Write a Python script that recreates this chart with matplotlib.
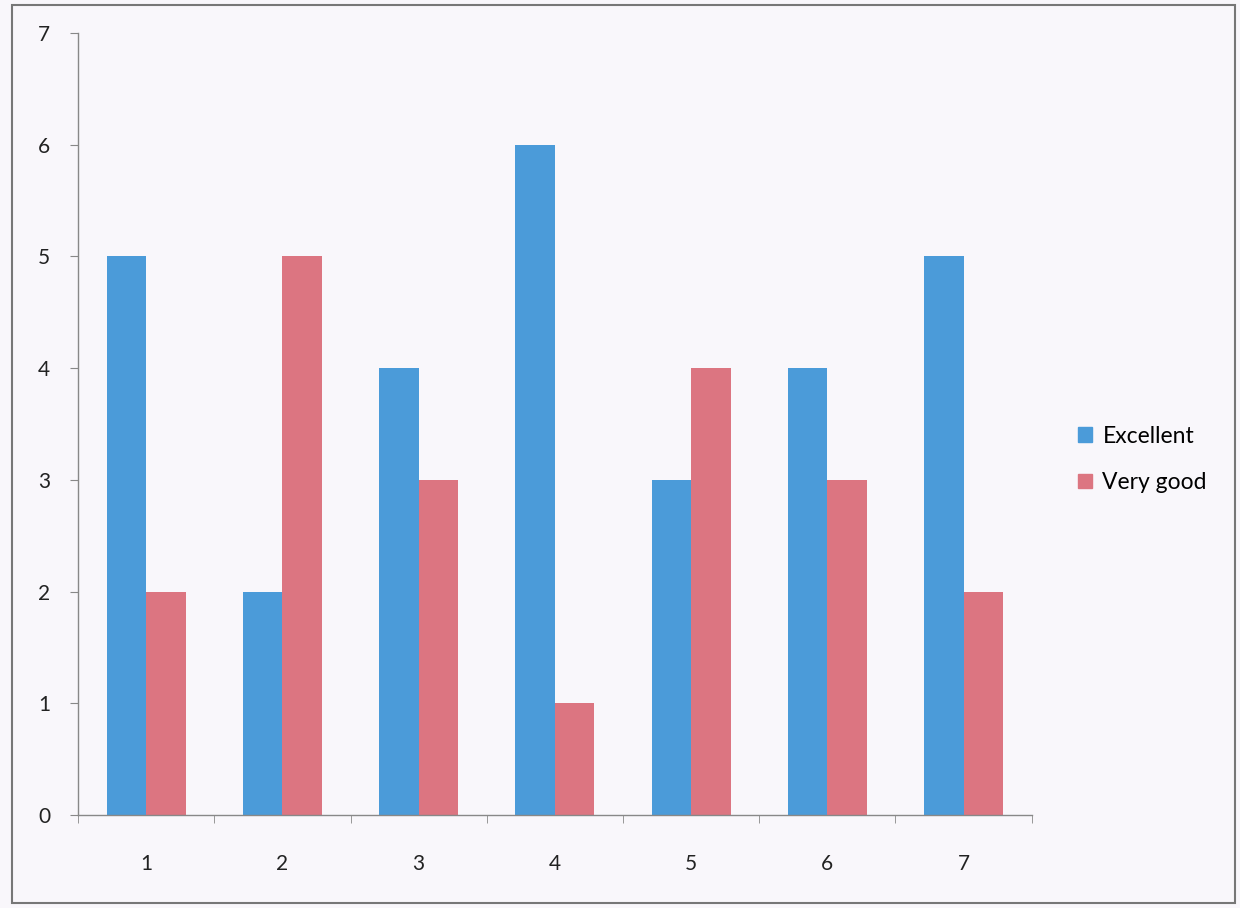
import matplotlib
matplotlib.use("Agg")
import matplotlib.pyplot as plt
import numpy as np
from matplotlib.patches import Rectangle, Patch

categories = ["1", "2", "3", "4", "5", "6", "7"]
excellent = [5, 2, 4, 6, 3, 4, 5]
very_good = [2, 5, 3, 1, 4, 3, 2]
y_ticks = [0, 1, 2, 3, 4, 5, 6, 7]

blue = "#4b9bd9"
pink = "#dc7581"
bg = "#f9f7fb"

plt.rcParams['font.family'] = ['Lato', 'DejaVu Sans']

fig = plt.figure(figsize=(12.4, 9.08), dpi=100, facecolor=bg)
ax = fig.add_axes([0.063, 0.1024, 0.769, 0.8613], facecolor=bg)

x = np.arange(1, len(categories) + 1)
w = 0.29
ax.bar(x - w / 2, excellent, width=w, color=blue, label="Excellent", zorder=2)
ax.bar(x + w / 2, very_good, width=w, color=pink, label="Very good", zorder=2)

ax.set_xlim(0.5, len(categories) + 0.5)
ax.set_ylim(0, 7)
ax.set_yticks(y_ticks)
ax.set_yticklabels([str(v) for v in y_ticks], fontsize=15, color="#222222")
ax.set_xticks(x)
ax.set_xticklabels(categories, fontsize=15, color="#222222")
ax.set_xticks(np.arange(0.5, len(categories) + 1, 1), minor=True)
ax.tick_params(axis="x", which="major", length=0, pad=28)
ax.tick_params(axis="x", which="minor", length=6, color="#888888", direction="out")
ax.tick_params(axis="y", length=6, color="#888888", direction="out", pad=14)

for s in ["top", "right"]:
    ax.spines[s].set_visible(False)
for s in ["left", "bottom"]:
    ax.spines[s].set_color("#888888")
    ax.spines[s].set_linewidth(1.0)

handles = [Patch(color=blue), Patch(color=pink)]
fig.legend(handles, ["Excellent", "Very good"], loc="center left",
           bbox_to_anchor=(0.853, 0.494), frameon=False, fontsize=16.5,
           handlelength=0.6, handleheight=0.6, handletextpad=0.45,
           labelspacing=1.1)

fig.patches.append(Rectangle((12 / 1240, 5 / 908), 1223 / 1240, 898 / 908,
                             transform=fig.transFigure, fill=False,
                             edgecolor="#777777", linewidth=1.5))

fig.savefig("out.png", dpi=100, facecolor=bg)
